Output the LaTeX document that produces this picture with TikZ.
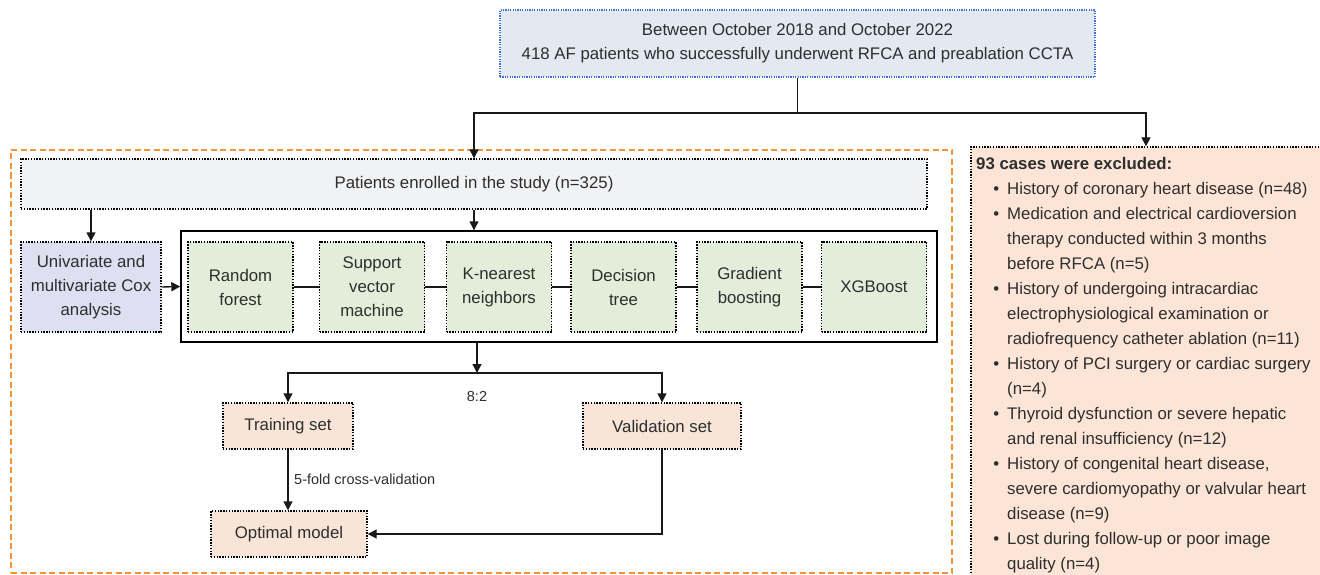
\documentclass[tikz,border=0pt]{standalone}
\usepackage{fontspec}
\setmainfont{Liberation Sans}
\usetikzlibrary{arrows.meta}
\definecolor{txt}{HTML}{2E2E2E}
\definecolor{topfill}{HTML}{E3E9F1}
\definecolor{topdraw}{HTML}{3D72D6}
\definecolor{grayfill}{HTML}{F1F2F4}
\definecolor{lavfill}{HTML}{DEE0F2}
\definecolor{greenfill}{HTML}{E2EED9}
\definecolor{peachfill}{HTML}{F8E5D8}
\definecolor{exclfill}{HTML}{FCE5D6}
\definecolor{orangedash}{HTML}{F39237}
\newcommand{\exbul}{\makebox[31pt][r]{\textbullet\hspace{8pt}}}
\newcommand{\exind}{\hspace*{31pt}}
\begin{document}
\begin{tikzpicture}[x=1pt,y=-1pt,
  every node/.style={text=txt, font=\fontsize{16.8}{24}\selectfont, align=center, inner sep=0pt},
  dotbox/.style={draw=black, line width=1.4pt, dash pattern=on 1.4pt off 1.4pt, rectangle},
  arr/.style={draw=black!90, line width=1.4pt, -{Triangle[length=9pt,width=9pt]}},
  ln/.style={draw=black!90, line width=1.4pt},
  lbl/.style={font=\fontsize{14.5}{18}\selectfont},
  greenbox/.style={dotbox, fill=greenfill, minimum width=105pt, minimum height=90pt},
  peachbox/.style={dotbox, fill=peachfill, minimum height=46pt}
]
\clip (0,0) rectangle (1320,575);
\fill[white] (0,0) rectangle (1320,575);

% top box
\node[dotbox, draw=topdraw, line width=1.2pt, dash pattern=on 1.2pt off 1.2pt, fill=topfill, minimum width=595pt, minimum height=67pt] (top) at (797.5,43.5)
  {Between October 2018 and October 2022\\418 AF patients who successfully underwent RFCA and preablation CCTA};

% orange study frame
\node[draw=orangedash, line width=1.5pt, dash pattern=on 6pt off 3.5pt, minimum width=941pt, minimum height=423pt] (study) at (481.5,361.5) {};

% exclusion box
\node[dotbox, fill=exclfill, minimum width=350pt, minimum height=432pt] (excl) at (1146,363) {};
\node[anchor=north west, align=left, font=\fontsize{16.8}{25}\selectfont] (excltext) at (976,157) {%
\textbf{93 cases were excluded:}\\
\exbul History of coronary heart disease (n=48)\\
\exbul Medication and electrical cardioversion\\
\exind therapy conducted within 3 months\\
\exind before RFCA (n=5)\\
\exbul History of undergoing intracardiac\\
\exind electrophysiological examination or\\
\exind radiofrequency catheter ablation (n=11)\\
\exbul History of PCI surgery or cardiac surgery\\
\exind (n=4)\\
\exbul Thyroid dysfunction or severe hepatic\\
\exind and renal insufficiency (n=12)\\
\exbul History of congenital heart disease,\\
\exind severe cardiomyopathy or valvular heart\\
\exind disease (n=9)\\
\exbul Lost during follow-up or poor image\\
\exind quality (n=4)};

% enrolled
\node[dotbox, fill=grayfill, minimum width=906pt, minimum height=50pt] (enrol) at (474,184) {Patients enrolled in the study (n=325)};

% univariate
\node[dotbox, fill=lavfill, minimum width=140pt, minimum height=90pt] (uni) at (91,287) {Univariate and\\multivariate Cox\\analysis};

% models frame
\node[draw=black, line width=1.4pt, minimum width=756pt, minimum height=111pt] (models) at (559,286.5) {};
\node[greenbox] (rf) at (240.5,287) {Random\\forest};
\node[greenbox] (svm) at (372,287) {Support\\vector\\machine};
\node[greenbox] (knn) at (499,287) {K-nearest\\neighbors};
\node[greenbox] (dt) at (623.5,287) {Decision\\tree};
\node[greenbox] (gb) at (749.5,287) {Gradient\\boosting};
\node[greenbox] (xgb) at (874,287) {XGBoost};

% lower boxes
\node[peachbox, minimum width=130pt] (train) at (288,426) {Training set};
\node[peachbox, minimum width=158pt] (valid) at (662,426) {Validation set};
\node[peachbox, minimum width=156pt] (opt) at (289,534) {Optimal model};

% connectors
\coordinate (j1) at (797.5,113);
\draw[ln] (top.south) -- (j1);
\draw[arr] (j1) -| (enrol.north);
\draw[arr] (j1) -| (excl.north);
\draw[arr] (enrol.south -| uni.north) -- (uni.north);
\draw[arr] (enrol.south) -- (enrol.south |- models.north);
\draw[arr] (uni.east) -- (models.west);
\draw[ln] (rf.east) -- (svm.west);
\draw[ln] (svm.east) -- (knn.west);
\draw[ln] (knn.east) -- (dt.west);
\draw[ln] (dt.east) -- (gb.west);
\draw[ln] (gb.east) -- (xgb.west);
\coordinate (split) at (477,373);
\draw[arr] (models.south -| split) -- (split);
\draw[arr] (split) -| (train.north);
\draw[arr] (split) -| (valid.north);
\node[lbl] (ratio) at (477,397) {8:2};
\draw[arr] (train.south) -- (train.south |- opt.north);
\node[lbl, anchor=west] (cv) at (294,479) {5-fold cross-validation};
\draw[arr] (valid.south) |- (opt.east);
\end{tikzpicture}
\end{document}
